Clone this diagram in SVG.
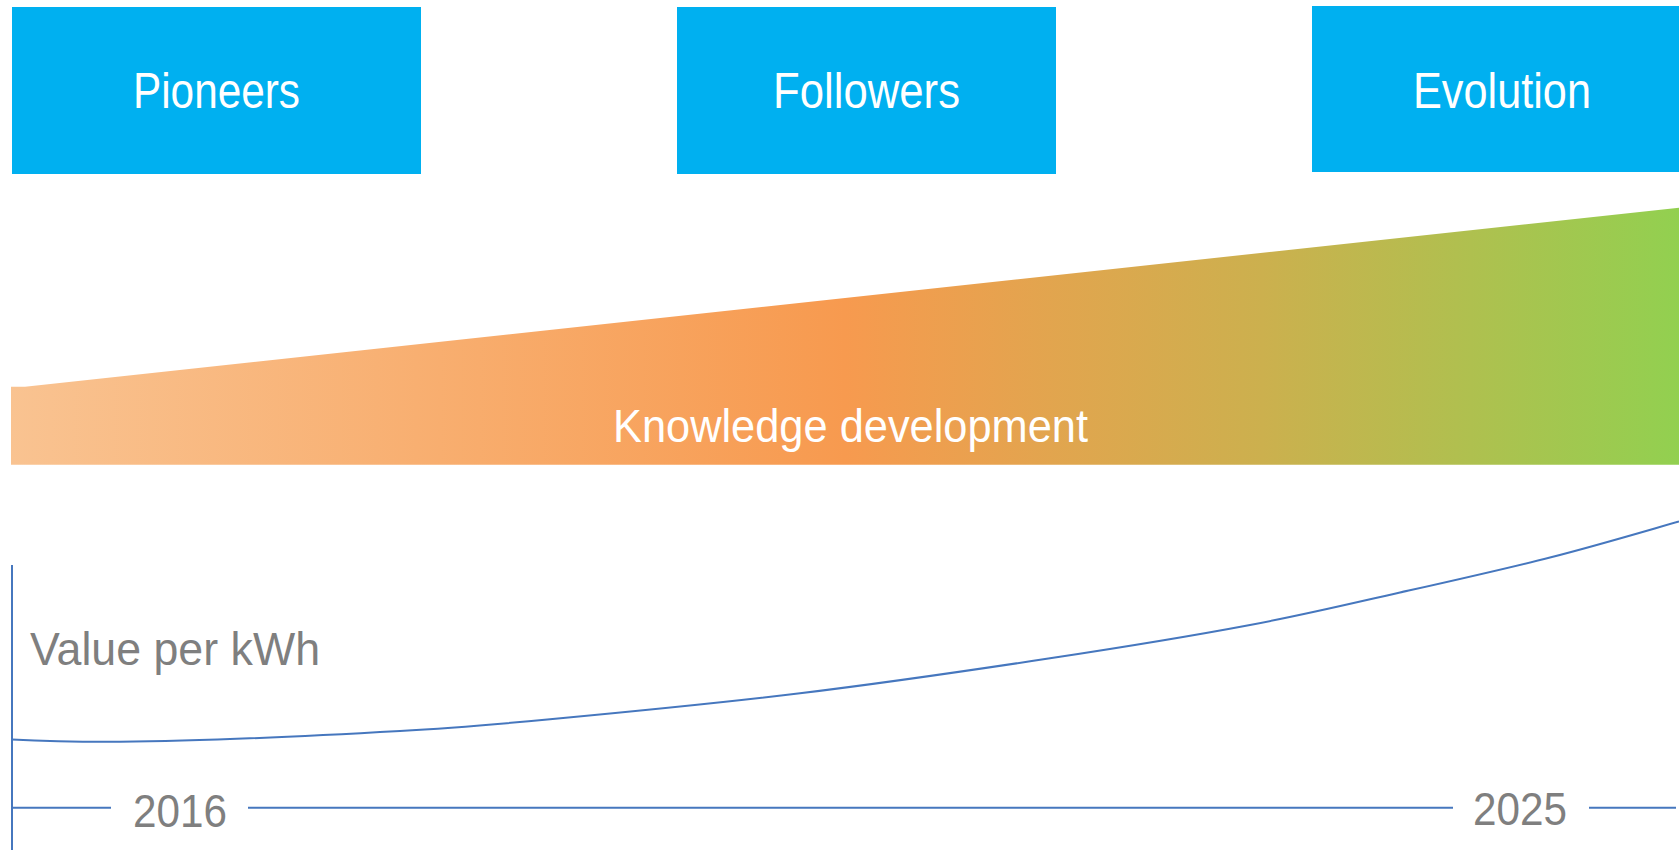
<svg xmlns="http://www.w3.org/2000/svg" width="1679" height="850" viewBox="0 0 1679 850">
  <style>
    .phase { fill: #00B0F0; }
    .phase-label { font-family: "Liberation Sans", Arial, sans-serif; font-size: 50px; fill: #FFFFFF; }
    .band-label { font-family: "Liberation Sans", Arial, sans-serif; font-size: 47px; fill: #FFFFFF; }
    .axis-label { font-family: "Liberation Sans", Arial, sans-serif; font-size: 47px; fill: #7F7F7F; }
    .axis { stroke: #4677BE; stroke-width: 2; fill: none; }
    .curve { stroke: #4677BE; stroke-width: 2; fill: none; }
  </style>
  <defs>
    <linearGradient id="knowledgeFill" x1="0" y1="0" x2="1" y2="0">
      <stop offset="0" stop-color="#F9C391"/>
      <stop offset="0.5" stop-color="#F79A4F"/>
      <stop offset="0.75" stop-color="#CCB04E"/>
      <stop offset="1" stop-color="#92D050"/>
    </linearGradient>
  </defs>

  <!-- phase boxes -->
  <g id="pioneers">
    <rect class="phase" x="12" y="7" width="409" height="167"/>
    <text class="phase-label" x="133" y="108" textLength="167" lengthAdjust="spacingAndGlyphs">Pioneers</text>
  </g>
  <g id="followers">
    <rect class="phase" x="677" y="7" width="379" height="167"/>
    <text class="phase-label" x="773" y="108" textLength="187" lengthAdjust="spacingAndGlyphs">Followers</text>
  </g>
  <g id="evolution">
    <rect class="phase" x="1312" y="6" width="367" height="166"/>
    <text class="phase-label" x="1413" y="108" textLength="178" lengthAdjust="spacingAndGlyphs">Evolution</text>
  </g>

  <!-- knowledge development wedge -->
  <g id="knowledge">
    <polygon points="11,386.7 25,386.7 1679,207.7 1679,464.7 11,464.7" fill="url(#knowledgeFill)"/>
    <text class="band-label" x="613" y="442" textLength="475" lengthAdjust="spacingAndGlyphs">Knowledge development</text>
  </g>

  <!-- value axis and timeline -->
  <g id="axes">
    <line class="axis" x1="12" y1="565" x2="12" y2="850"/>
    <line class="axis" x1="12" y1="807.7" x2="111" y2="807.7"/>
    <line class="axis" x1="248" y1="807.7" x2="1453" y2="807.7"/>
    <line class="axis" x1="1589" y1="807.7" x2="1676" y2="807.7"/>
    <text class="axis-label" x="30" y="665" textLength="290" lengthAdjust="spacingAndGlyphs">Value per kWh</text>
    <text class="axis-label" x="133" y="826.5" textLength="94" lengthAdjust="spacingAndGlyphs">2016</text>
    <text class="axis-label" x="1473" y="825" textLength="94" lengthAdjust="spacingAndGlyphs">2025</text>
  </g>

  <!-- value curve -->
  <g id="connectors">
    <path class="curve" d="M12,739.5 C50,741.5 80,742 120,741.8 C200,741.2 320,735.5 400,731 C458.3,727.8 483.3,725.6 550,719.3 C616.7,713 716.7,703.5 800,693.3 C883.3,683.1 975,669.7 1050,658.3 C1125,646.9 1191.7,636 1250,625 C1308.3,614 1350,603.75 1400,592.5 C1450,581.25 1503.5,569.3 1550,557.5 C1596.5,545.7 1657.5,527.5 1679,521.5"/>
  </g>
</svg>
